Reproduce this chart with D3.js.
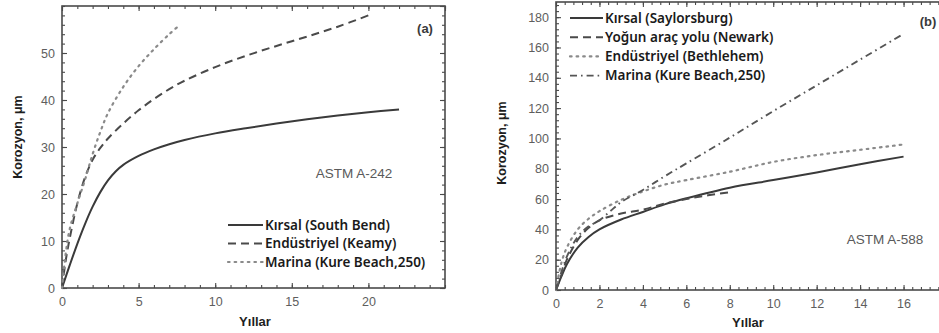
<!DOCTYPE html>
<html><head><meta charset="utf-8">
<script src="https://cdn.jsdelivr.net/npm/d3@7"></script>
<style>
body{margin:0;background:#fff;}
svg{display:block;}
</style></head>
<body><svg id="chart" width="939" height="333"></svg>
<script>
// ---------- Panel (a): ASTM A-242 ----------
const aYears_rural = [0,0.5,1,1.5,2,2.5,3,3.5,4,5,6,7,8,10,12,14,16,18,20,22];
const aVals_rural  = [0,4.8,9.4,13.6,17.3,20.4,22.9,24.8,26.2,28.1,29.5,30.6,31.5,32.9,34,35,35.9,36.7,37.4,38];
const aYears_ind   = [0,0.25,0.5,1,1.5,2,2.5,3,4,5,6,7,8,10,12,14,16,18,20];
const aVals_ind    = [0,6,10.5,18,23.5,27.3,29.8,31.8,35,37.8,40.2,42.3,44.1,47,49.4,51.5,53.5,55.6,58];
const aYears_mar   = [0,0.25,0.5,1,1.5,2,2.5,3,4,5,6,7,7.7];
const aVals_mar    = [0,7.5,12.5,18,23,28.5,33.2,37.2,42.8,47.2,50.8,54,56];
const aLegend = ["Kırsal (South Bend)","Endüstriyel (Keamy)","Marina (Kure Beach,250)"];
const aXTicks = [0,5,10,15,20];
const aYTicks = [0,10,20,30,40,50];

// ---------- Panel (b): ASTM A-588 ----------
const bYears_rural = [0,0.25,0.5,1,1.5,2,3,4,5,6,8,10,12,14,16];
const bVals_rural  = [0,9,17,28,35,40,46.5,51.5,56.5,60.5,67.5,72.5,77.5,83,88];
const bYears_traf  = [0,0.25,0.5,1,1.5,2,3,4,5,6,7,8];
const bVals_traf   = [0,10,20,33,41,46,50.5,53,57,60,62.5,64.5];
const bYears_ind   = [0,0.25,0.5,1,1.5,2,3,4,5,6,8,10,12,14,16];
const bVals_ind    = [0,18,28,40,47,52,59.5,65,69.5,72.5,78,84.5,89,92.5,96];
const bYears_mar   = [0,0.5,1,1.5,2,2.5,3,4,5,6,8,10,12,14,16];
const bVals_mar    = [0,22,35,42,46,52,58,66,75,83.5,100.5,118,135,152,169];
const bLegend = ["Kırsal (Saylorsburg)","Yoğun araç yolu (Newark)","Endüstriyel (Bethlehem)","Marina (Kure Beach,250)"];
const bXTicks = [0,2,4,6,8,10,12,14,16];
const bYTicks = [0,20,40,60,80,100,120,140,160,180];

const svg = d3.select("#chart");
const zip = (xs, ys) => xs.map((x,i)=>({x, y:ys[i]}));

const styles = {
  solid:  {dash:null, color:"#3a3a3a", w:2},
  dashed: {dash:"8,5", color:"#4a4a4a", w:2},
  dotted: {dash:"1.6,5", color:"#8a8a8a", w:2.2, cap:"round"},
  dashdot:{dash:"7,4,1.6,4", color:"#555", w:1.9}
};

function panel(cfg){
  const g = svg.append("g");
  const x = d3.scaleLinear().domain(cfg.xDomain).range([cfg.left, cfg.right]);
  const y = d3.scaleLinear().domain(cfg.yDomain).range([cfg.bottom, cfg.top]);
  const frameColor = "#4a4a4a";

  g.append("rect").attr("x",cfg.left).attr("y",cfg.top)
    .attr("width",cfg.right-cfg.left).attr("height",cfg.bottom-cfg.top)
    .attr("fill","none").attr("stroke",frameColor).attr("stroke-width",1.6);

  const minorX = d3.range(cfg.xDomain[0], cfg.xDomain[1]+1e-9, cfg.xMinor);
  const minorY = d3.range(cfg.yDomain[0], cfg.yDomain[1]+1e-9, cfg.yMinor);
  const majorXAll = d3.range(cfg.xDomain[0], cfg.xDomain[1]+1e-9, cfg.xMajor);
  const majorYAll = d3.range(cfg.yDomain[0], cfg.yDomain[1]+1e-9, cfg.yMajor);

  function styleAxis(sel){
    sel.select(".domain").remove();
    sel.selectAll("line").attr("stroke",frameColor).attr("stroke-width",1.1);
    sel.selectAll("text").attr("fill","#5e5e5e").style("font-family","'Liberation Sans',Arial,sans-serif").style("font-size","12.5px");
  }
  g.append("g").attr("transform",`translate(0,${cfg.bottom})`)
    .call(d3.axisBottom(x).tickValues(minorX).tickSize(-3).tickFormat("")).call(styleAxis);
  g.append("g").attr("transform",`translate(0,${cfg.bottom})`)
    .call(d3.axisBottom(x).tickValues(cfg.xTicks).tickSizeInner(-5).tickSizeOuter(0).tickPadding(9)).call(styleAxis);
  g.append("g").attr("transform",`translate(0,${cfg.top})`)
    .call(d3.axisTop(x).tickValues(minorX).tickSize(-3).tickFormat("")).call(styleAxis);
  g.append("g").attr("transform",`translate(0,${cfg.top})`)
    .call(d3.axisTop(x).tickValues(majorXAll).tickSize(-5).tickFormat("")).call(styleAxis);
  g.append("g").attr("transform",`translate(${cfg.left},0)`)
    .call(d3.axisLeft(y).tickValues(minorY).tickSize(-3).tickFormat("")).call(styleAxis);
  g.append("g").attr("transform",`translate(${cfg.left},0)`)
    .call(d3.axisLeft(y).tickValues(cfg.yTicks).tickSizeInner(-5).tickSizeOuter(0).tickPadding(7)).call(styleAxis);
  g.append("g").attr("transform",`translate(${cfg.right},0)`)
    .call(d3.axisRight(y).tickValues(minorY).tickSize(-3).tickFormat("")).call(styleAxis);
  g.append("g").attr("transform",`translate(${cfg.right},0)`)
    .call(d3.axisRight(y).tickValues(majorYAll).tickSize(-5).tickFormat("")).call(styleAxis);

  const line = d3.line().x(d=>x(d.x)).y(d=>y(d.y)).curve(d3.curveCatmullRom.alpha(0.5));
  cfg.series.forEach(s=>{
    const st = styles[s.style];
    g.append("path").datum(zip(s.xs, s.ys)).attr("d",line)
      .attr("fill","none").attr("stroke",st.color).attr("stroke-width",st.w)
      .attr("stroke-dasharray",st.dash).attr("stroke-linecap",st.cap||"butt");
  });

  cfg.series.forEach((s,i)=>{
    const st = styles[s.style];
    const ly = cfg.legY + i*cfg.legDy;
    g.append("line").attr("x1",cfg.legX).attr("x2",cfg.legX+cfg.legLen).attr("y1",ly).attr("y2",ly)
      .attr("stroke",st.color).attr("stroke-width",st.w).attr("stroke-dasharray",st.dash)
      .attr("stroke-linecap",st.cap||"butt");
    g.append("text").attr("x",cfg.legX+cfg.legLen+2).attr("y",ly).attr("dy","0.35em")
      .text(s.name).attr("fill","#1a1a1a")
      .style("font-family","'Noto Sans',sans-serif").style("font-size",cfg.legFont).style("font-weight","600");
  });

  g.append("text").attr("x",cfg.stdX).attr("y",cfg.stdY).attr("dy","0.35em").attr("text-anchor","middle")
    .text(cfg.std).attr("fill","#5a5a5a")
    .style("font-family","'Liberation Sans',Arial,sans-serif").style("font-size","13.5px");
  g.append("text").attr("x",cfg.tagX).attr("y",cfg.tagY).attr("dy","0.35em").attr("text-anchor","middle")
    .text(cfg.tag).attr("fill","#3a3a3a")
    .style("font-family","'Liberation Sans',Arial,sans-serif").style("font-size","13px").style("font-weight","bold");

  g.append("text").attr("x",(cfg.left+cfg.xTitleX)).attr("y",cfg.xTitleY).attr("text-anchor","middle")
    .text("Yıllar").attr("fill","#1e1e1e")
    .style("font-family","'Liberation Sans',Arial,sans-serif").style("font-size","13px").style("font-weight","bold");
  g.append("text").attr("transform",`translate(${cfg.yTitleX},${cfg.yTitleY}) rotate(-90)`)
    .attr("text-anchor","middle").text("Korozyon, μm").attr("fill","#1e1e1e")
    .style("font-family","'Liberation Sans',Arial,sans-serif").style("font-size","12.5px").style("font-weight","bold");
}

panel({
  left:62, right:445, top:6, bottom:288,
  xDomain:[0,25], yDomain:[0,60], xTicks:aXTicks, yTicks:aYTicks,
  xMinor:1, xMajor:5, yMinor:2, yMajor:10,
  series:[
    {name:aLegend[0], xs:aYears_rural, ys:aVals_rural, style:"solid"},
    {name:aLegend[1], xs:aYears_ind,   ys:aVals_ind,   style:"dashed"},
    {name:aLegend[2], xs:aYears_mar,   ys:aVals_mar,   style:"dotted"}
  ],
  legX:228, legLen:35, legY:225, legDy:18.5, legFont:"13.5px",
  std:"ASTM A-242", stdX:354, stdY:173,
  tag:"(a)", tagX:425, tagY:28,
  xTitleX:193, xTitleY:326, yTitleX:22, yTitleY:137
});

panel({
  left:556, right:947, top:2, bottom:290,
  xDomain:[0,18], yDomain:[0,190], xTicks:bXTicks, yTicks:bYTicks,
  xMinor:0.4, xMajor:2, yMinor:4, yMajor:20,
  series:[
    {name:bLegend[0], xs:bYears_rural, ys:bVals_rural, style:"solid"},
    {name:bLegend[1], xs:bYears_traf,  ys:bVals_traf,  style:"dashed"},
    {name:bLegend[2], xs:bYears_ind,   ys:bVals_ind,   style:"dotted"},
    {name:bLegend[3], xs:bYears_mar,   ys:bVals_mar,   style:"dashdot"}
  ],
  legX:570, legLen:33, legY:18, legDy:19.2, legFont:"13.5px",
  std:"ASTM A-588", stdX:885, stdY:239,
  tag:"(b)", tagX:928, tagY:21,
  xTitleX:192, xTitleY:327, yTitleX:506, yTitleY:143
});
</script></body></html>
